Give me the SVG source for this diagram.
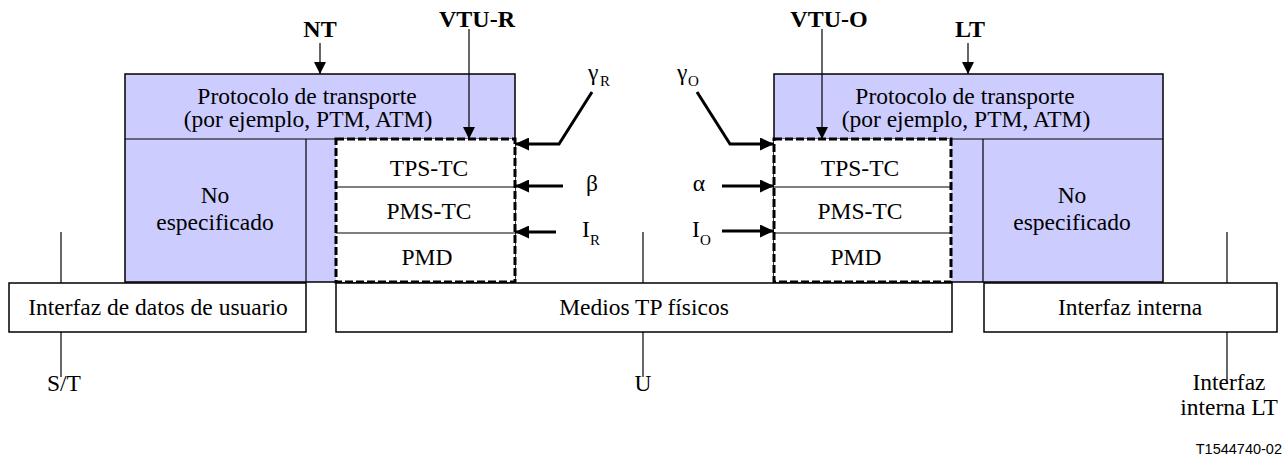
<svg xmlns="http://www.w3.org/2000/svg" width="1287" height="459" viewBox="0 0 1287 459">
<style>
text{font-family:'Liberation Serif','Times New Roman','DejaVu Serif',serif;fill:#000}
.t{font-size:23.5px}
.c{text-anchor:middle}
.b{font-weight:bold;font-size:24px}
.sub{font-size:15px}
.sans{font-family:'Liberation Sans',Arial,sans-serif;font-size:14.5px;text-anchor:end}
.blue{fill:#ccccff;stroke:#000;stroke-width:1.5}
.box{fill:#fff;stroke:#000;stroke-width:1.5}
.dash{fill:#fff;stroke:#000;stroke-width:3;stroke-dasharray:8 3}
.ln{stroke:#000;stroke-width:1.2;fill:none}
.thin{stroke:#000;stroke-width:1.2;fill:none;marker-end:url(#ah)}
.thick{stroke:#000;stroke-width:3;fill:none;marker-end:url(#ahb)}
</style>
<defs>
<marker id="ah" viewBox="0 0 12 12" refX="12" refY="6" markerWidth="12" markerHeight="12" markerUnits="userSpaceOnUse" orient="auto">
<path d="M0,0 L12,6 L0,12 z" fill="#000"/>
</marker>
<marker id="ahb" viewBox="0 0 14 13" refX="14" refY="6.5" markerWidth="14" markerHeight="13" markerUnits="userSpaceOnUse" orient="auto">
<path d="M0,0 L14,6.5 L0,13 z" fill="#000"/>
</marker>
</defs>
<rect width="1287" height="459" fill="#fff"/>

<g id="nt" font-family="Liberation Serif, Times New Roman, serif">
<rect class="blue" x="125" y="74" width="390" height="208"/>
<line class="ln" x1="125" y1="139" x2="515" y2="139"/>
<line class="ln" x1="306" y1="139" x2="306" y2="282"/>
<text class="t c" x="307" y="104">Protocolo de transporte</text>
<text class="t c" x="308" y="127">(por ejemplo, PTM, ATM)</text>
<text class="t c" x="215" y="203">No</text>
<text class="t c" x="215" y="230">especificado</text>
</g>

<g id="vtu-r" font-family="Liberation Serif, Times New Roman, serif">
<rect class="dash" x="336" y="139" width="179" height="143"/>
<line class="ln" x1="336" y1="187" x2="515" y2="187"/>
<line class="ln" x1="336" y1="233" x2="515" y2="233"/>
<text class="t c" x="429" y="176">TPS-TC</text>
<text class="t c" x="429" y="219">PMS-TC</text>
<text class="t c" x="427" y="265">PMD</text>
</g>

<g id="lt" font-family="Liberation Serif, Times New Roman, serif">
<rect class="blue" x="774" y="74" width="389" height="208"/>
<line class="ln" x1="774" y1="139" x2="1163" y2="139"/>
<line class="ln" x1="983" y1="139" x2="983" y2="282"/>
<text class="t c" x="965" y="104">Protocolo de transporte</text>
<text class="t c" x="966" y="127">(por ejemplo, PTM, ATM)</text>
<text class="t c" x="1072" y="203">No</text>
<text class="t c" x="1072" y="230">especificado</text>
</g>

<g id="vtu-o" font-family="Liberation Serif, Times New Roman, serif">
<rect class="dash" x="774" y="139" width="177" height="143"/>
<line class="ln" x1="774" y1="187" x2="951" y2="187"/>
<line class="ln" x1="774" y1="233" x2="951" y2="233"/>
<text class="t c" x="860" y="176">TPS-TC</text>
<text class="t c" x="860" y="219">PMS-TC</text>
<text class="t c" x="856" y="265">PMD</text>
</g>

<g id="interfaz-datos">
<rect class="box" x="9" y="283" width="297" height="49"/>
<text class="t c" x="158" y="315">Interfaz de datos de usuario</text>
</g>

<g id="medios">
<rect class="box" x="336" y="283" width="616" height="49"/>
<text class="t c" x="644" y="315">Medios TP físicos</text>
</g>

<g id="interfaz-interna">
<rect class="box" x="984" y="283" width="293" height="49"/>
<text class="t c" x="1130" y="315">Interfaz interna</text>
</g>

<g id="labels">
<text class="t c b" x="320" y="37">NT</text>
<text class="t c b" x="477" y="27">VTU-R</text>
<text class="t c b" x="829" y="27">VTU-O</text>
<text class="t c b" x="970" y="37">LT</text>
<text class="t" x="588" y="80">γ</text><text class="t sub" x="600" y="86">R</text>
<text class="t" x="677" y="80">γ</text><text class="t sub" x="688" y="86">O</text>
<text class="t c" x="592" y="191">β</text>
<text class="t c" x="699" y="191">α</text>
<text class="t" x="582" y="237">I</text><text class="t sub" x="590" y="245">R</text>
<text class="t" x="692" y="237">I</text><text class="t sub" x="700" y="245">O</text>
<text class="t c" x="64" y="391">S/T</text>
<text class="t c" x="643" y="391">U</text>
<text class="t c" x="1229" y="390">Interfaz</text>
<text class="t c" x="1229" y="415">interna LT</text>
<text class="sans" x="1282" y="454">T1544740-02</text>
</g>

<g id="connectors">
<line class="thin" x1="320" y1="43" x2="320" y2="74"/>
<line class="thin" x1="469" y1="29" x2="469" y2="139"/>
<line class="thin" x1="822" y1="29" x2="822" y2="139"/>
<line class="thin" x1="968" y1="43" x2="968" y2="74"/>
<polyline class="thick" points="592,92 559,144 515,144"/>
<polyline class="thick" points="697,92 730,144 774,144"/>
<line class="thick" x1="563" y1="186" x2="515" y2="186"/>
<line class="thick" x1="556" y1="232" x2="515" y2="232"/>
<line class="thick" x1="722" y1="186" x2="774" y2="186"/>
<line class="thick" x1="722" y1="231" x2="774" y2="231"/>
<line class="ln" x1="61" y1="232" x2="61" y2="283"/>
<line class="ln" x1="61" y1="332" x2="61" y2="377"/>
<line class="ln" x1="643" y1="232" x2="643" y2="283"/>
<line class="ln" x1="643" y1="332" x2="643" y2="377"/>
<line class="ln" x1="1227" y1="232" x2="1227" y2="283"/>
<line class="ln" x1="1227" y1="332" x2="1227" y2="380"/>
</g>
</svg>
